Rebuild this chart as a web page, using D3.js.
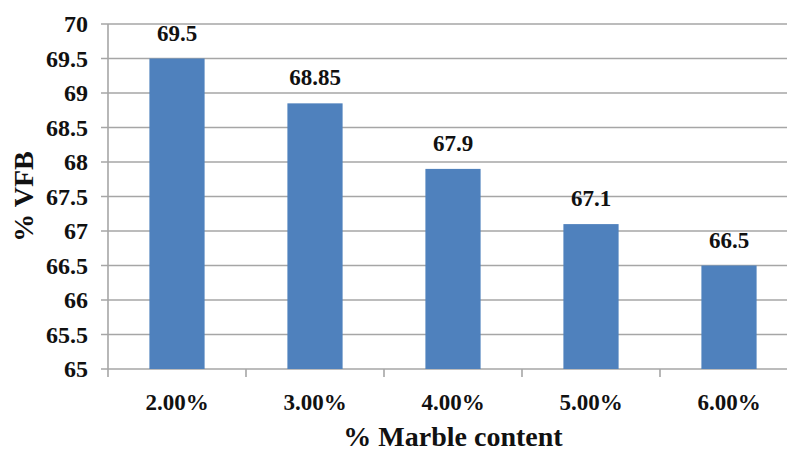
<!DOCTYPE html>
<html>
<head>
<meta charset="utf-8">
<script src="https://cdn.jsdelivr.net/npm/d3@7"></script>
<style>
    body { margin: 0; background: #fff; }
    svg text { font-family: Liberation Serif, DejaVu Serif, serif; }
</style>
</head>
<body>
<svg id="vis" width="787" height="453"></svg>
<script>
// chart values
const CATEGORIES = ["2.00%", "3.00%", "4.00%", "5.00%", "6.00%"];
const VFB = [69.5, 68.85, 67.9, 67.1, 66.5];
const LABELS = ["69.5", "68.85", "67.9", "67.1", "66.5"];
const Y_TICKS = [65, 65.5, 66, 66.5, 67, 67.5, 68, 68.5, 69, 69.5, 70];

const MARGINS = {top: 24, right: -11, bottom: 84, left: 108};
const WIDTH = 787, HEIGHT = 453;

const svg = d3.select("#vis");

const x = d3.scaleBand()
    .domain(CATEGORIES)
    .range([MARGINS.left, WIDTH - MARGINS.right])
    .paddingInner(0.6)
    .paddingOuter(0.3);

// band edges for the category ticks
const step = x.step();
const x0 = MARGINS.left;

const y = d3.scaleLinear()
    .domain([65, 70])
    .range([HEIGHT - MARGINS.bottom, MARGINS.top]);

// gridlines
svg.append("g")
    .selectAll("line")
    .data(Y_TICKS)
    .enter()
    .append("line")
    .attr("x1", MARGINS.left - 7)
    .attr("x2", WIDTH - MARGINS.right)
    .attr("y1", d => y(d))
    .attr("y2", d => y(d))
    .style("stroke", "#a6a6a6")
    .style("stroke-width", 1.6);

// y axis line
svg.append("line")
    .attr("x1", MARGINS.left).attr("x2", MARGINS.left)
    .attr("y1", MARGINS.top).attr("y2", y(65) + 8)
    .style("stroke", "#a6a6a6")
    .style("stroke-width", 1.6);

// x category ticks
svg.append("g")
    .selectAll("line")
    .data(d3.range(1, CATEGORIES.length + 1))
    .enter()
    .append("line")
    .attr("x1", i => x0 + i * step)
    .attr("x2", i => x0 + i * step)
    .attr("y1", y(65))
    .attr("y2", y(65) + 8)
    .style("stroke", "#a6a6a6")
    .style("stroke-width", 1.6);

// shared text style
function textStyle(sel){
    sel.attr("font-family", "Liberation Serif")
        .attr("font-weight", "bold")
        .attr("fill", "#111");
}

// y tick labels
svg.append("g")
    .selectAll("text")
    .data(Y_TICKS)
    .enter()
    .append("text")
    .call(textStyle)
    .attr("x", MARGINS.left - 20)
    .attr("y", d => y(d) + 8)
    .attr("text-anchor", "end")
    .attr("font-size", 24)
    .text(d => d);

// bars
svg.append("g")
    .selectAll("rect")
    .data(VFB)
    .enter()
    .append("rect")
    .attr("x", (d, i) => x(CATEGORIES[i]))
    .attr("width", x.bandwidth())
    .attr("y", d => y(d))
    .attr("height", d => y(65) - y(d))
    .style("fill", "#4f81bd");

// value labels
svg.append("g")
    .selectAll("text")
    .data(VFB)
    .enter()
    .append("text")
    .call(textStyle)
    .attr("x", (d, i) => x(CATEGORIES[i]) + x.bandwidth() / 2)
    .attr("y", d => y(d) - 18)
    .attr("text-anchor", "middle")
    .attr("font-size", 23)
    .text((d, i) => LABELS[i]);

// category labels
svg.append("g")
    .selectAll("text")
    .data(CATEGORIES)
    .enter()
    .append("text")
    .call(textStyle)
    .attr("x", d => x(d) + x.bandwidth() / 2)
    .attr("y", y(65) + 41)
    .attr("text-anchor", "middle")
    .attr("font-size", 23)
    .text(d => d);

// axis titles
svg.append("text")
    .call(textStyle)
    .attr("x", (MARGINS.left + WIDTH - MARGINS.right) / 2)
    .attr("y", 446)
    .attr("text-anchor", "middle")
    .attr("font-size", 28)
    .text("% Marble content");

svg.append("text")
    .call(textStyle)
    .attr("transform", `translate(33, ${(y(65) + y(70)) / 2}) rotate(-90)`)
    .attr("text-anchor", "middle")
    .attr("font-size", 28)
    .text("% VFB");
</script>
</body>
</html>
